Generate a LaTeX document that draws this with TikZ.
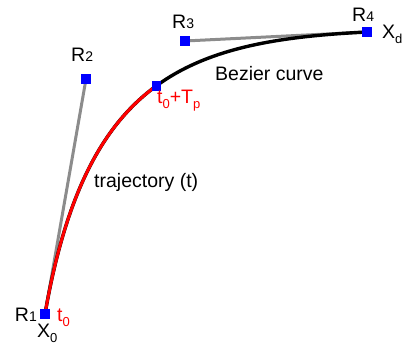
\documentclass[tikz,border=0pt]{standalone}
\usepackage{fontspec}
\setmainfont{Liberation Sans}
\newcommand\smd[1]{{\fontsize{14}{14}\selectfont #1}}
\newcommand\lsub[1]{\raisebox{-0.3em}{\fontsize{13}{13}\selectfont #1}}
\begin{document}
\begin{tikzpicture}[x=1pt,y=-1pt,
  marker/.style={fill={rgb,255:red,0;green,0;blue,255},minimum size=9.5pt,inner sep=0pt},
  ctrl/.style={draw={rgb,255:red,140;green,140;blue,140},line width=3pt},
  curve/.style={draw=black,line width=3.4pt},
  redcurve/.style={draw={rgb,255:red,255;green,0;blue,0},line width=3pt},
  lbl/.style={inner sep=0pt,font=\fontsize{19.5}{22}\selectfont},
  rlbl/.style={lbl,text={rgb,255:red,255;green,0;blue,0}}]
\useasboundingbox (0,0) rectangle (404,345);
\coordinate (p1) at (45,314);
\coordinate (p2) at (86,79);
\coordinate (p3) at (185,41);
\coordinate (p4) at (367,32);
\coordinate (q0) at (65.91,194.15);
\coordinate (q1) at (101.91,125.54);
\coordinate (pm) at (156.31,85.88);
\draw[ctrl] (p1) -- (p2);
\draw[ctrl] (p3) -- (p4);
\draw[curve] (p1) .. controls (p2) and (p3) .. (p4);
\draw[redcurve] (p1) .. controls (q0) and (q1) .. (pm);
\node[marker] (r1) at (p1) {};
\node[marker] (r2) at (p2) {};
\node[marker] (r3) at (p3) {};
\node[marker] (r4) at (p4) {};
\node[marker] (rm) at (pm) {};
\node[lbl,anchor=base east] (l1) at (37,321) {R\smd{1}};
\node[rlbl,anchor=base west] (lt0) at (57,321) {t\lsub{0}};
\node[lbl,anchor=base west] (lx0) at (37,337) {X\lsub{0}};
\node[lbl,anchor=base west] (l2) at (71,62) {R\smd{2}};
\node[lbl,anchor=base west] (l3) at (172,29) {R\smd{3}};
\node[lbl,anchor=base west] (l4) at (352,22) {R\smd{4}};
\node[lbl,anchor=base west] (lxd) at (382,38) {X\lsub{d}};
\node[rlbl,anchor=base west] (ltp) at (157,103) {t\lsub{0}+T\lsub{p}};
\node[lbl,anchor=base west] (lb) at (215,81) {Bezier curve};
\node[lbl,anchor=base west] (lt) at (94,187) {trajectory (t)};
\end{tikzpicture}
\end{document}
